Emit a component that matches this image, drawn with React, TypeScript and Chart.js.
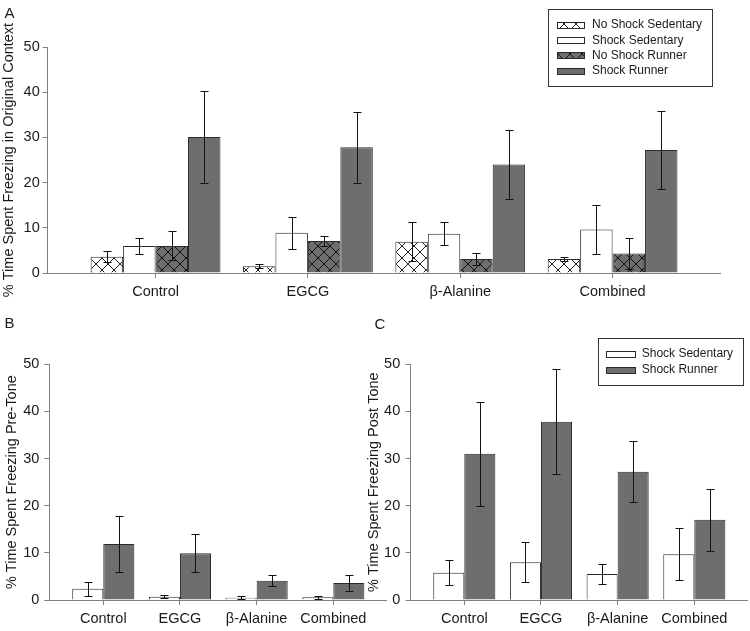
import React, { useEffect, useRef } from 'react';
import { Chart, registerables } from 'chart.js';

Chart.register(...registerables);

// ---------- data ----------
const groups = ['Control', 'EGCG', 'β-Alanine', 'Combined'];
const yTicks = [0, 10, 20, 30, 40, 50];

// Panel A – original context
const aNoShockSed = [3.6, 1.5, 6.9, 3.1];
const aNoShockSedErr = [1.2, 0.5, 4.3, 0.4];
const aShockSed = [6.0, 8.9, 8.7, 9.6];
const aShockSedErr = [1.7, 3.5, 2.6, 5.5];
const aNoShockRun = [6.0, 7.1, 3.1, 4.3];
const aNoShockRunErr = [3.2, 1.1, 1.4, 3.4];
const aShockRun = [30.1, 27.8, 24.0, 27.2];
const aShockRunErr = [10.2, 7.9, 7.7, 8.6];

// Panel B – pre-tone
const bShockSed = [2.4, 0.7, 0.5, 0.6];
const bShockSedErr = [1.5, 0.3, 0.3, 0.3];
const bShockRun = [11.9, 9.9, 4.1, 3.6];
const bShockRunErr = [6.0, 4.0, 1.1, 1.6];

// Panel C – post tone
const cShockSed = [5.8, 8.0, 5.5, 9.7];
const cShockSedErr = [2.6, 4.2, 2.2, 5.5];
const cShockRun = [31.0, 37.8, 27.2, 17.0];
const cShockRunErr = [11.0, 11.1, 6.5, 6.6];

// ---------- styles ----------
const FONT = "'Liberation Sans', Arial, sans-serif";
const TEXT = '#1a1a1a';
const AXIS = '#808080';
const GRAY = '#6e6e6e';
const EDGE = '#2a2a2a';

function hatch(bg: string, line: string, size = 12) {
  const c = document.createElement('canvas');
  c.width = size;
  c.height = size;
  const g = c.getContext('2d')!;
  g.fillStyle = bg;
  g.fillRect(0, 0, size, size);
  g.strokeStyle = line;
  g.lineWidth = 1;
  g.beginPath();
  g.moveTo(-1, -1);
  g.lineTo(size + 1, size + 1);
  g.moveTo(size + 1, -1);
  g.lineTo(-1, size + 1);
  g.stroke();
  return g.createPattern(c, 'repeat')!;
}

const errorBars = {
  id: 'errorBars',
  afterDatasetsDraw(chart: any) {
    const ctx = chart.ctx;
    const ys = chart.scales.y;
    ctx.save();
    ctx.strokeStyle = '#111';
    ctx.lineWidth = 1;
    chart.data.datasets.forEach((ds: any, i: number) => {
      const meta = chart.getDatasetMeta(i);
      meta.data.forEach((bar: any, j: number) => {
        const v = ds.data[j].y;
        const e = ds.errors[j];
        const x = Math.round(bar.x) + 0.5;
        const yt = Math.round(ys.getPixelForValue(v + e)) + 0.5;
        const yb = Math.round(ys.getPixelForValue(Math.max(0, v - e))) + 0.5;
        ctx.beginPath();
        ctx.moveTo(x, yt);
        ctx.lineTo(x, yb);
        ctx.moveTo(x - 4, yt);
        ctx.lineTo(x + 4, yt);
        ctx.moveTo(x - 4, yb);
        ctx.lineTo(x + 4, yb);
        ctx.stroke();
      });
    });
    ctx.restore();
  },
};

const boxLegend = {
  id: 'boxLegend',
  afterDraw(chart: any, _args: any, o: any) {
    if (!o || !o.show) return;
    const ctx = chart.ctx;
    ctx.save();
    ctx.fillStyle = '#fff';
    ctx.fillRect(o.x, o.y, o.w, o.h);
    ctx.strokeStyle = '#333';
    ctx.lineWidth = 1;
    ctx.strokeRect(Math.round(o.x) + 0.5, Math.round(o.y) + 0.5, Math.round(o.w), Math.round(o.h));
    ctx.font = `12px ${FONT}`;
    ctx.textBaseline = 'middle';
    ctx.textAlign = 'left';
    chart.data.datasets.forEach((ds: any, i: number) => {
      const cy = o.rowY + i * o.rowH;
      const sy = Math.round(cy - o.sh / 2);
      ctx.fillStyle = ds.backgroundColor;
      ctx.fillRect(o.sx, sy, o.sw, o.sh);
      ctx.strokeStyle = EDGE;
      ctx.strokeRect(o.sx + 0.5, sy + 0.5, o.sw, o.sh);
      ctx.fillStyle = TEXT;
      ctx.fillText(ds.label, o.tx, cy);
    });
    ctx.restore();
  },
};

function xScale(min: number, max: number, height: number) {
  return {
    type: 'linear',
    min,
    max,
    offset: false,
    afterBuildTicks: (s: any) => {
      s.ticks = groups.map((_, i) => ({ value: i + 1 }));
    },
    afterFit: (s: any) => {
      s.height = height;
    },
    grid: { drawOnChartArea: false, drawTicks: true, tickLength: 5, color: AXIS, offset: false },
    border: { display: true, color: AXIS, width: 1 },
    ticks: {
      callback: (v: any) => groups[Math.round(v) - 1] ?? '',
      font: { family: FONT, size: 14.5 },
      color: TEXT,
      padding: 5,
      maxRotation: 0,
      autoSkip: false,
    },
  };
}

function yScale(width: number, title: string, tickPad: number, titlePad: number) {
  return {
    type: 'linear',
    min: 0,
    max: 50,
    afterBuildTicks: (s: any) => {
      s.ticks = yTicks.map((v) => ({ value: v }));
    },
    afterFit: (s: any) => {
      s.width = width;
    },
    grid: { drawOnChartArea: false, drawTicks: true, tickLength: 5, color: AXIS },
    border: { display: true, color: AXIS, width: 1 },
    ticks: { font: { family: FONT, size: 14.5 }, color: TEXT, padding: tickPad },
    title: {
      display: true,
      text: title,
      font: { family: FONT, size: 14.5 },
      color: TEXT,
      padding: { top: titlePad, bottom: 0 },
    },
  };
}

function ds(label: string, values: number[], errors: number[], bg: any) {
  return {
    label,
    data: values.map((v, i) => ({ x: i + 1, y: v })),
    errors,
    backgroundColor: bg,
    borderColor: EDGE,
    borderWidth: 1,
  };
}

function baseOptions(extra: any) {
  return {
    responsive: false,
    animation: false,
    events: [],
    ...extra,
  };
}

function configA() {
  const hatchWhite = hatch('#ffffff', '#222');
  const hatchGray = hatch(GRAY, '#111');
  return {
    type: 'bar',
    data: {
      datasets: [
        ds('No Shock Sedentary', aNoShockSed, aNoShockSedErr, hatchWhite),
        ds('Shock Sedentary', aShockSed, aShockSedErr, '#ffffff'),
        ds('No Shock Runner', aNoShockRun, aNoShockRunErr, hatchGray),
        ds('Shock Runner', aShockRun, aShockRunErr, GRAY),
      ],
    },
    options: baseOptions({
      layout: { padding: { top: 47, right: 30, left: 0, bottom: 0 } },
      datasets: { bar: { categoryPercentage: 0.852, barPercentage: 1 } },
      scales: {
        x: xScale(0.292, 4.705, 27),
        y: yScale(47.7, '% Time Spent Freezing in Original Context', 3, 0),
      },
      plugins: {
        legend: { display: false },
        tooltip: { enabled: false },
        boxLegend: { show: true, x: 548, y: 9, w: 164, h: 77, rowY: 25, rowH: 15.2, sx: 557, sw: 27, sh: 6, tx: 592 },
      },
    }),
    plugins: [errorBars, boxLegend],
  };
}

function configB() {
  return {
    type: 'bar',
    data: {
      datasets: [
        ds('Shock Sedentary', bShockSed, bShockSedErr, '#ffffff'),
        ds('Shock Runner', bShockRun, bShockRunErr, GRAY),
      ],
    },
    options: baseOptions({
      layout: { padding: { top: 64.3, right: 9, left: 0, bottom: 0 } },
      datasets: { bar: { categoryPercentage: 0.81, barPercentage: 1 } },
      scales: {
        x: xScale(0.296, 4.687, 31),
        y: yScale(49.3, '% Time Spent Freezing Pre-Tone', 5, 3),
      },
      plugins: {
        legend: { display: false },
        tooltip: { enabled: false },
        boxLegend: { show: false },
      },
    }),
    plugins: [errorBars, boxLegend],
  };
}

function configC() {
  return {
    type: 'bar',
    data: {
      datasets: [
        ds('Shock Sedentary', cShockSed, cShockSedErr, '#ffffff'),
        ds('Shock Runner', cShockRun, cShockRunErr, GRAY),
      ],
    },
    options: baseOptions({
      layout: { padding: { top: 64.3, right: 3, left: 0, bottom: 0 } },
      datasets: { bar: { categoryPercentage: 0.81, barPercentage: 1 } },
      scales: {
        x: xScale(0.301, 4.687, 31),
        y: yScale(45.7, '% Time Spent Freezing Post Tone', 5.5, 0),
      },
      plugins: {
        legend: { display: false },
        tooltip: { enabled: false },
        boxLegend: { show: true, x: 232.7, y: 37.7, w: 144.6, h: 46.6, rowY: 54, rowH: 15.5, sx: 241, sw: 29, sh: 6, tx: 276.7 },
      },
    }),
    plugins: [errorBars, boxLegend],
  };
}

function Panel(props: { left: number; top: number; width: number; height: number; make: () => any }) {
  const ref = useRef<HTMLCanvasElement>(null);
  useEffect(() => {
    const chart = new Chart(ref.current as HTMLCanvasElement, props.make());
    return () => chart.destroy();
  }, []);
  return (
    <div style={{ position: 'absolute', left: props.left, top: props.top, width: props.width, height: props.height }}>
      <canvas ref={ref} width={props.width} height={props.height} style={{ width: props.width, height: props.height, display: 'block' }} />
    </div>
  );
}

const letterStyle = (left: number, top: number): React.CSSProperties => ({
  position: 'absolute',
  left,
  top,
  fontFamily: FONT,
  fontSize: 15,
  lineHeight: '15px',
  color: TEXT,
});

export default function App() {
  return (
    <div style={{ position: 'absolute', left: 0, top: 0, width: 750, height: 631, background: '#fff', overflow: 'hidden' }}>
      <Panel left={0} top={0} width={750} height={300} make={configA} />
      <Panel left={0} top={300} width={395} height={331} make={configB} />
      <Panel left={365} top={300} width={385} height={331} make={configC} />
      <div style={letterStyle(4.5, 4.5)}>A</div>
      <div style={letterStyle(4.5, 314.5)}>B</div>
      <div style={letterStyle(374.5, 316)}>C</div>
    </div>
  );
}
